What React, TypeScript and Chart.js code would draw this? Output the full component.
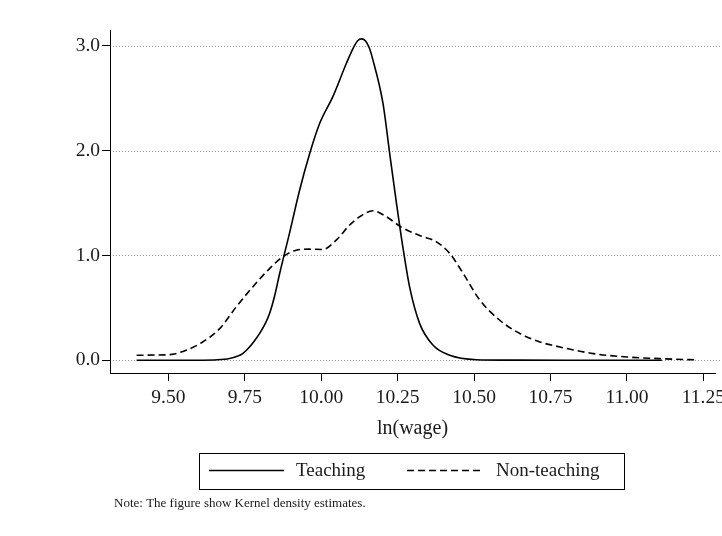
import React, { useEffect, useRef } from "react";
import { Chart, registerables } from "chart.js";

Chart.register(...registerables);

// ---- Data ----
const TEACHING_X = [9.396, 9.5, 9.6, 9.66, 9.7, 9.725, 9.743, 9.76, 9.78, 9.798, 9.815, 9.831, 9.848, 9.864, 9.896, 9.929, 9.962, 9.995, 10.038, 10.082, 10.105, 10.12, 10.132, 10.145, 10.157, 10.169, 10.202, 10.224, 10.246, 10.267, 10.289, 10.322, 10.366, 10.42, 10.508, 10.6, 10.8, 11.0, 11.114];
const TEACHING_Y = [0, 0, 0.001, 0.005, 0.018, 0.038, 0.064, 0.11, 0.18, 0.255, 0.34, 0.446, 0.62, 0.828, 1.21, 1.62, 1.97, 2.26, 2.515, 2.83, 2.98, 3.05, 3.065, 3.045, 2.98, 2.865, 2.45, 1.97, 1.5, 1.08, 0.7, 0.35, 0.143, 0.048, 0.006, 0.002, 0, 0, 0];

const NONTEACH_X = [9.396, 9.45, 9.503, 9.558, 9.612, 9.667, 9.722, 9.776, 9.831, 9.874, 9.918, 9.96, 10.005, 10.049, 10.093, 10.126, 10.169, 10.213, 10.262, 10.322, 10.377, 10.42, 10.464, 10.519, 10.584, 10.65, 10.715, 10.781, 10.89, 10.999, 11.108, 11.228];
const NONTEACH_Y = [0.048, 0.05, 0.054, 0.096, 0.175, 0.3, 0.51, 0.7, 0.875, 0.987, 1.05, 1.06, 1.057, 1.146, 1.29, 1.37, 1.426, 1.37, 1.27, 1.19, 1.13, 1.02, 0.83, 0.573, 0.382, 0.255, 0.175, 0.127, 0.064, 0.032, 0.016, 0.004];

const X_TICKS = [9.5, 9.75, 10.0, 10.25, 10.5, 10.75, 11.0, 11.25];
const Y_TICKS = [0, 1, 2, 3];

const SERIES_LABELS = ["Teaching", "Non-teaching"];
const X_TITLE = "ln(wage)";
const NOTE = "Note: The figure show Kernel density estimates.";

const FONT = "'Liberation Serif', 'Times New Roman', serif";
const TEXT_COLOR = "#1a1a1a";

const toPoints = (xs: number[], ys: number[]) => xs.map((x, i) => ({ x, y: ys[i] }));

const gridPlugin = {
  id: "dottedGrid",
  beforeDatasetsDraw(chart: any) {
    const { ctx, chartArea, scales } = chart;
    const y = scales.y;
    ctx.save();
    ctx.strokeStyle = "#9a9a9a";
    ctx.lineWidth = 1;
    ctx.setLineDash([1, 2]);
    Y_TICKS.forEach((v) => {
      const py = Math.round(y.getPixelForValue(v)) + 0.5;
      ctx.beginPath();
      ctx.moveTo(chartArea.left + 3, py);
      ctx.lineTo(722, py);
      ctx.stroke();
    });
    ctx.restore();
  },
};

const legendNotePlugin = {
  id: "legendNote",
  afterDraw(chart: any) {
    const { ctx } = chart;
    const ds = chart.data.datasets;
    ctx.save();
    // legend box
    ctx.strokeStyle = "#000";
    ctx.lineWidth = 1;
    ctx.setLineDash([]);
    ctx.strokeRect(199.5, 453.5, 425, 36);
    const sampleY = 470.5;
    const items = [
      { x0: 209, x1: 284, tx: 296 },
      { x0: 407, x1: 482, tx: 496 },
    ];
    items.forEach((it, i) => {
      ctx.beginPath();
      ctx.strokeStyle = ds[i].borderColor;
      ctx.lineWidth = ds[i].borderWidth;
      ctx.setLineDash(ds[i].borderDash || []);
      ctx.moveTo(it.x0, sampleY);
      ctx.lineTo(it.x1, sampleY);
      ctx.stroke();
      ctx.setLineDash([]);
      ctx.fillStyle = TEXT_COLOR;
      ctx.font = `19px ${FONT}`;
      ctx.textBaseline = "middle";
      ctx.textAlign = "left";
      ctx.fillText(ds[i].label, it.tx, 471);
    });
    // note
    ctx.font = `13px ${FONT}`;
    ctx.fillStyle = TEXT_COLOR;
    ctx.textBaseline = "middle";
    ctx.fillText(NOTE, 114, 504);
    ctx.restore();
  },
};

export default function App() {
  const ref = useRef<HTMLCanvasElement | null>(null);

  useEffect(() => {
    if (!ref.current) return;
    const chart = new Chart(ref.current, {
      type: "line",
      data: {
        datasets: [
          {
            label: SERIES_LABELS[0],
            data: toPoints(TEACHING_X, TEACHING_Y),
            borderColor: "#000",
            borderWidth: 1.6,
            pointRadius: 0,
            cubicInterpolationMode: "monotone",
            fill: false,
          },
          {
            label: SERIES_LABELS[1],
            data: toPoints(NONTEACH_X, NONTEACH_Y),
            borderColor: "#000",
            borderWidth: 1.6,
            borderDash: [7, 4],
            pointRadius: 0,
            cubicInterpolationMode: "monotone",
            fill: false,
          },
        ],
      },
      options: {
        responsive: false,
        animation: false,
        layout: { padding: { left: 0, right: 45, top: 30, bottom: 0 } },
        plugins: { legend: { display: false }, tooltip: { enabled: false } },
        scales: {
          x: {
            type: "linear",
            min: 9.309,
            max: 11.288,
            afterBuildTicks: (s: any) => {
              s.ticks = X_TICKS.map((v) => ({ value: v }));
            },
            afterFit: (s: any) => {
              s.height = 163;
            },
            ticks: {
              callback: (v: any) => Number(v).toFixed(2),
              font: { family: FONT, size: 19.5 },
              color: TEXT_COLOR,
              padding: 5,
              maxRotation: 0,
              autoSkip: false,
            },
            grid: { display: true, drawOnChartArea: false, drawTicks: true, tickLength: 8, color: "#000" },
            border: { display: true, color: "#000", width: 1 },
            title: {
              display: true,
              text: X_TITLE,
              font: { family: FONT, size: 20 },
              color: TEXT_COLOR,
              padding: { top: 0, bottom: 95.5 },
            },
          },
          y: {
            type: "linear",
            min: -0.121,
            max: 3.15,
            afterBuildTicks: (s: any) => {
              s.ticks = Y_TICKS.map((v) => ({ value: v }));
            },
            afterFit: (s: any) => {
              s.width = 110;
            },
            ticks: {
              callback: (v: any) => Number(v).toFixed(1),
              font: { family: FONT, size: 19.5 },
              color: TEXT_COLOR,
              padding: 2,
              autoSkip: false,
            },
            grid: { display: true, drawOnChartArea: false, drawTicks: true, tickLength: 8, color: "#000" },
            border: { display: true, color: "#000", width: 1 },
          },
        },
      },
      plugins: [gridPlugin, legendNotePlugin],
    } as any);
    return () => chart.destroy();
  }, []);

  return (
    <div
      style={{
        position: "absolute",
        left: 0,
        top: 0,
        width: 722,
        height: 536,
        overflow: "hidden",
        background: "#fff",
      }}
    >
      <canvas ref={ref} width={760} height={536} style={{ display: "block", width: 760, height: 536 }} />
    </div>
  );
}
